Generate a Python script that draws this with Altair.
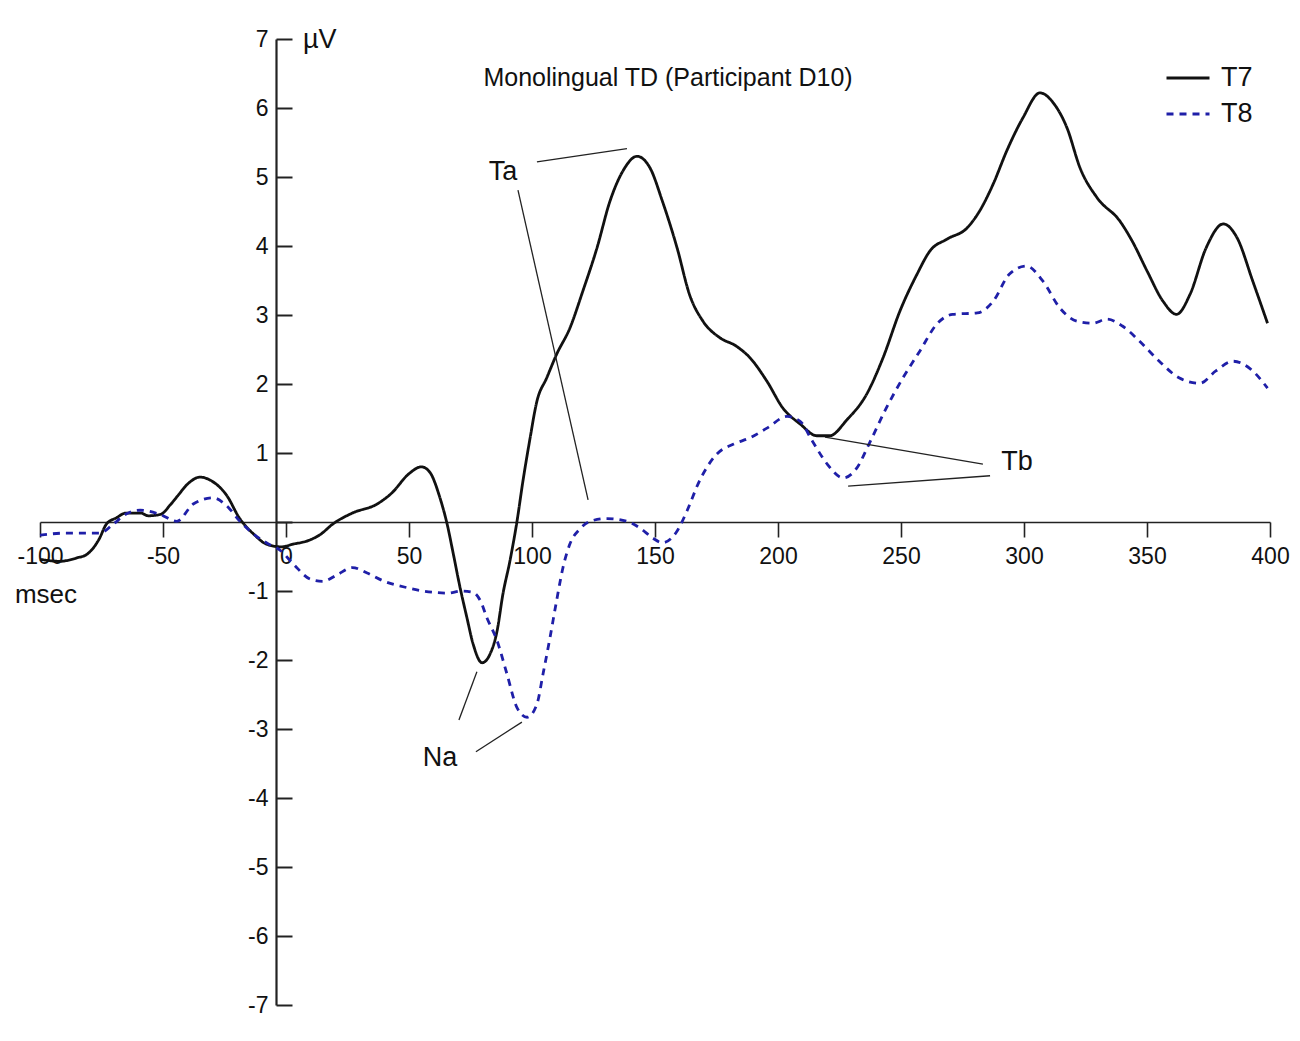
import altair as alt
import pandas as pd

# ---------------- data ----------------
t7_ms = [-100, -92, -85, -81, -76, -73, -69, -65, -59, -56, -51, -47, -44, -40, -35, -30, -24,
         -19, -13, -8, -2, 3, 9, 14, 19, 27, 37, 43, 50, 55, 58.5, 62.5, 65.5, 68, 70.7, 73.5,
         76, 79.7, 83, 85.8, 88.2, 91, 93.9, 96.3, 99, 102, 106, 110, 115.4, 120.7, 126.4,
         131.7, 137, 142.7, 148, 153, 159, 164, 169.5, 176.4, 183, 188.6, 195.5, 202, 209,
         215.8, 221, 228, 236, 242.7, 249.6, 256.5, 261.8, 268.7, 276.8, 282, 287.5, 293,
         299.6, 306.5, 312, 317.5, 322.8, 329.7, 339, 344, 350, 356.5, 362, 367.5, 374, 381,
         386.6, 393, 399]
t7_uv = [-0.54, -0.57, -0.52, -0.47, -0.25, -0.03, 0.06, 0.13, 0.13, 0.09, 0.11, 0.25, 0.38,
         0.55, 0.65, 0.59, 0.38, 0.06, -0.18, -0.32, -0.36, -0.32, -0.27, -0.18, -0.03, 0.13,
         0.26, 0.42, 0.70, 0.80, 0.72, 0.36, -0.03, -0.46, -0.94, -1.38, -1.76, -2.04, -1.91,
         -1.58, -1.04, -0.57, 0.01, 0.59, 1.17, 1.75, 2.09, 2.43, 2.81, 3.35, 3.97, 4.65, 5.09,
         5.30, 5.13, 4.65, 3.97, 3.30, 2.91, 2.67, 2.55, 2.38, 2.04, 1.65, 1.42, 1.25, 1.25,
         1.48, 1.85, 2.38, 3.06, 3.59, 3.93, 4.10, 4.26, 4.51, 4.90, 5.38, 5.86, 6.22, 6.07,
         5.71, 5.13, 4.70, 4.36, 4.07, 3.64, 3.20, 3.01, 3.30, 3.97, 4.32, 4.12, 3.49, 2.88]

t8_ms = [-100, -89, -75.6, -70.2, -64.8, -59.3, -51.2, -44.4, -37.7, -29.6, -24, -18.7, -13,
         -8, -2, 3, 10, 15, 21, 27, 33, 40, 49, 60, 66, 71, 76, 79, 81.7, 85.8, 89.8, 93.9,
         98, 102, 104.5, 107.3, 110, 112.6, 115.4, 119.5, 123.6, 130.5, 138.6, 144, 149, 153,
         159, 163, 168, 175, 182, 188.6, 195.5, 203.7, 209, 214, 220, 226.5, 232, 237, 244,
         250.8, 257.7, 264.6, 271, 281, 287.5, 294, 301, 307.7, 314.6, 321.5, 328, 333.7, 340,
         347, 355, 363, 371.5, 378, 385, 392, 399]
t8_uv = [-0.19, -0.16, -0.16, -0.03, 0.12, 0.17, 0.11, 0.01, 0.26, 0.35, 0.23, 0.01, -0.18,
         -0.30, -0.42, -0.61, -0.83, -0.86, -0.76, -0.66, -0.74, -0.86, -0.95, -1.02, -1.03,
         -1.0, -1.02, -1.14, -1.39, -1.72, -2.2, -2.69, -2.83, -2.64, -2.2, -1.68, -1.14,
         -0.66, -0.32, -0.10, 0.01, 0.05, 0.01, -0.09, -0.23, -0.30, -0.13, 0.16, 0.59, 0.98,
         1.13, 1.22, 1.36, 1.53, 1.46, 1.17, 0.84, 0.64, 0.78, 1.13, 1.65, 2.09, 2.48, 2.87,
         3.01, 3.03, 3.20, 3.59, 3.71, 3.49, 3.10, 2.91, 2.88, 2.94, 2.84, 2.62, 2.33, 2.09,
         2.01, 2.19, 2.33, 2.22, 1.94]

series_names = ["T7", "T8"]
series_colors = ["#111111", "#1f1fa8"]
series_dash = [[1, 0], [7, 6]]

x_ticks = [-100, -50, 0, 50, 100, 150, 200, 250, 300, 350, 400]
y_ticks = [-7, -6, -5, -4, -3, -2, -1, 1, 2, 3, 4, 5, 6, 7]
y_tick_marks = [-7, -6, -5, -4, -3, -2, -1, 0, 1, 2, 3, 4, 5, 6, 7]

# peak labels and their leader lines (msec, µV)
ann_labels = ["Ta", "Tb", "Na"]
ann_ms = [88.2, 297.2, 62.6]
ann_uv = [5.07, 0.87, -3.42]

lead_ms1 = [102.0, 94.3, 219.1, 228.5, 70.3, 77.2]
lead_uv1 = [5.22, 4.81, 1.23, 0.52, -2.87, -3.33]
lead_ms2 = [138.6, 122.8, 283.3, 286.2, 77.6, 95.9]
lead_uv2 = [5.41, 0.32, 0.84, 0.67, -2.17, -2.90]

title_text = "Monolingual TD (Participant D10)"
title_pos = (155.3, 6.43)
unit_text = "µV"
unit_pos = (6.9, 6.87)
xlab_text = "msec"
xlab_pos = (-110.2, -1.06)

# ---------------- tables ----------------
curves = pd.DataFrame(
    {"ms": t7_ms + t8_ms,
     "uv": t7_uv + t8_uv,
     "series": ["T7"] * len(t7_ms) + ["T8"] * len(t8_ms),
     "order": list(range(len(t7_ms))) + list(range(len(t8_ms)))}
)
ann_df = pd.DataFrame({"label": ann_labels, "ms": ann_ms, "uv": ann_uv})
lead_df = pd.DataFrame({"ms": lead_ms1, "uv": lead_uv1, "ms2": lead_ms2, "uv2": lead_uv2})
title_df = pd.DataFrame({"label": [title_text], "ms": [title_pos[0]], "uv": [title_pos[1]]})
unit_df = pd.DataFrame({"label": [unit_text], "ms": [unit_pos[0]], "uv": [unit_pos[1]]})
xlab_df = pd.DataFrame({"label": [xlab_text], "ms": [xlab_pos[0]], "uv": [xlab_pos[1]]})

FONT = "Liberation Sans"
W, H = 1230, 966
Y_AXIS_AT = 236          # pixel offset of the y axis from plot left (≈ -4 msec)
X_AXIS_AT = 483          # pixel offset of the x axis from plot bottom (0 µV)

xs = alt.Scale(domain=[-100, 400], nice=False, zero=False)
ys = alt.Scale(domain=[-7, 7], nice=False, zero=False)

leg = alt.Legend(title=None, orient="none", legendX=1125, legendY=16,
                 symbolType="stroke", symbolSize=1849, symbolStrokeWidth=3,
                 labelFontSize=27, labelFont=FONT, labelColor="#111",
                 labelOffset=10, rowPadding=-10, padding=0)

lines = alt.Chart(curves).mark_line(strokeWidth=2.8, interpolate="monotone").encode(
    x=alt.X("ms:Q", scale=xs,
            axis=alt.Axis(orient="bottom", offset=-X_AXIS_AT, values=x_ticks, tickSize=15,
                          tickWidth=1.6, domainWidth=1.6, domainColor="#222", tickColor="#222",
                          labelPadding=8, labelFontSize=23, labelFont=FONT, labelColor="#111",
                          labelExpr="toString(datum.value)",
                          labelFlush=False, labelOverlap=False, grid=False, title=None)),
    y=alt.Y("uv:Q", scale=ys,
            axis=alt.Axis(orient="left", offset=-Y_AXIS_AT, values=y_ticks, ticks=False,
                          tickSize=0, domain=False, labelPadding=8, labelFontSize=23,
                          labelExpr="toString(datum.value)",
                          labelFont=FONT, labelColor="#111", labelOverlap=False, grid=False,
                          title=None)),
    color=alt.Color("series:N", scale=alt.Scale(domain=series_names, range=series_colors),
                    legend=leg),
    strokeDash=alt.StrokeDash("series:N",
                              scale=alt.Scale(domain=series_names, range=series_dash),
                              legend=leg),
    order="order:Q",
)

leaders = alt.Chart(lead_df).mark_rule(strokeWidth=1.3, color="#222").encode(
    x=alt.X("ms:Q", scale=xs),
    x2="ms2:Q",
    y=alt.Y("uv:Q", scale=ys,
            axis=alt.Axis(orient="right", offset=-(W - Y_AXIS_AT), values=y_tick_marks,
                          tickSize=16, tickWidth=2, domainWidth=2.2, domainColor="#222",
                          tickColor="#222", labels=False, grid=False, title=None)),
    y2="uv2:Q",
)

ann = alt.Chart(ann_df).mark_text(fontSize=27, font=FONT, color="#111",
                                  align="center", baseline="middle").encode(
    x=alt.X("ms:Q", scale=xs),
    y=alt.Y("uv:Q", scale=ys, axis=None),
    text="label:N",
)

title_layer = alt.Chart(title_df).mark_text(font=FONT, color="#111", fontSize=25,
                                            align="center", baseline="middle").encode(
    x=alt.X("ms:Q", scale=xs), y=alt.Y("uv:Q", scale=ys, axis=None), text="label:N")
unit_layer = alt.Chart(unit_df).mark_text(font=FONT, color="#111", fontSize=27,
                                          align="left", baseline="alphabetic").encode(
    x=alt.X("ms:Q", scale=xs), y=alt.Y("uv:Q", scale=ys, axis=None), text="label:N")
xlab_layer = alt.Chart(xlab_df).mark_text(font=FONT, color="#111", fontSize=26,
                                          align="left", baseline="middle").encode(
    x=alt.X("ms:Q", scale=xs), y=alt.Y("uv:Q", scale=ys, axis=None), text="label:N")

chart = alt.layer(lines, leaders, ann, title_layer, unit_layer, xlab_layer).resolve_scale(
    y="independent"
).properties(
    width=W, height=H,
    autosize=alt.AutoSizeParams(type="none"),
    padding={"left": 32, "top": 31, "right": 20, "bottom": 20},
    background="white",
).configure_view(stroke=None)

chart.save("out.html", embed_options={"renderer": "svg", "actions": False})
